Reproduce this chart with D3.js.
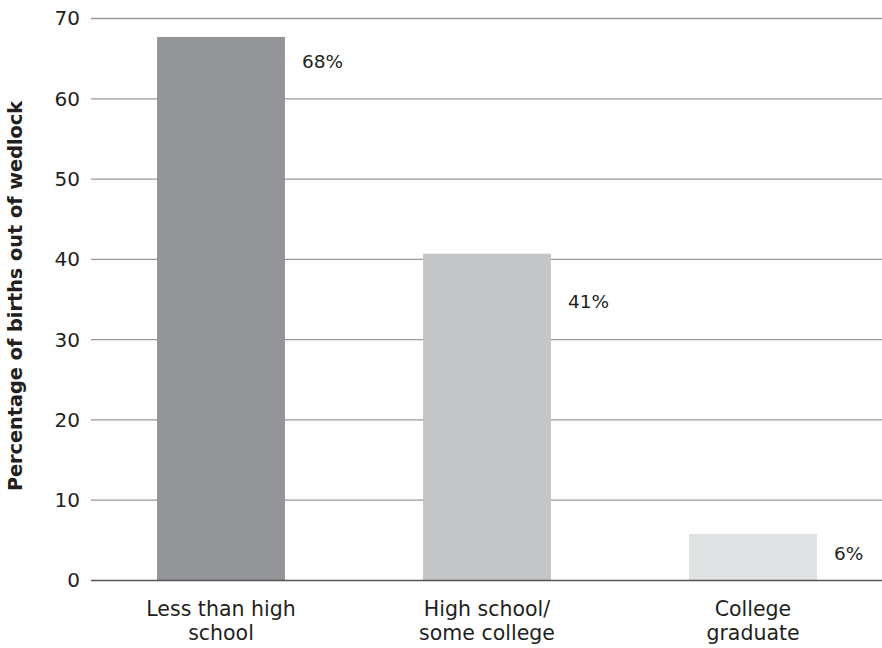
<!DOCTYPE html>
<html>
<head>
<meta charset="utf-8">
<script src="https://cdn.jsdelivr.net/npm/d3@7"></script>
<style>
  body { margin: 0; background: #fff; }
  text { font-family: "DejaVu Sans", sans-serif; fill: #231f20; }
</style>
</head>
<body>
<div id="chart-area"></div>
<script>
// data
var categories = [["Less than high", "school"], ["High school/", "some college"], ["College", "graduate"]];
var values = [67.7, 40.7, 5.8];
var valueLabels = ["68%", "41%", "6%"];
var yTicks = [0, 10, 20, 30, 40, 50, 60, 70];
var barColors = ["#939598", "#c4c5c7", "#e0e1e2"];

var W = 882, H = 648;
var svg = d3.select("#chart-area").append("svg")
    .attr("width", W)
    .attr("height", H);

// scales
var x = d3.scaleBand()
    .domain(d3.range(categories.length))
    .range([88, 886])
    .paddingInner(0.519)
    .paddingOuter(0.2595);

var y = d3.scaleLinear()
    .domain([0, 70])
    .range([580.5, 18.5]);

// grid lines
svg.append("g").selectAll("line")
    .data(yTicks.filter(function (d) { return d > 0; }))
    .enter().append("line")
    .attr("x1", 91).attr("x2", W)
    .attr("y1", function (d) { return y(d); })
    .attr("y2", function (d) { return y(d); })
    .attr("stroke", "#9a9a9a")
    .attr("stroke-width", 1.3);

// y axis labels
var yAxis = d3.axisLeft(y).tickValues(yTicks).tickSize(0).tickPadding(0);
var yg = svg.append("g")
    .attr("transform", "translate(80,0)")
    .call(yAxis);
yg.select(".domain").remove();
yg.selectAll("text")
    .style("font-size", "20px")
    .style("font-family", "'DejaVu Sans', sans-serif")
    .attr("fill", "#231f20");

// bars
svg.append("g").selectAll("rect")
    .data(values)
    .enter().append("rect")
    .attr("x", function (d, i) { return x(i); })
    .attr("y", function (d) { return y(d); })
    .attr("width", x.bandwidth())
    .attr("height", function (d) { return y(0) - y(d); })
    .attr("fill", function (d, i) { return barColors[i]; });

// baseline
svg.append("line")
    .attr("x1", 91).attr("x2", W)
    .attr("y1", y(0)).attr("y2", y(0))
    .attr("stroke", "#555")
    .attr("stroke-width", 1.4);

// value labels (vertical nudge per bar as in the original)
var labelDy = [31, 54, 26];
svg.append("g").selectAll("text")
    .data(values)
    .enter().append("text")
    .attr("x", function (d, i) { return x(i) + x.bandwidth() + 17; })
    .attr("y", function (d, i) { return y(d) + labelDy[i]; })
    .style("font-size", "18.5px")
    .text(function (d, i) { return valueLabels[i]; });

// category labels
var cat = svg.append("g").selectAll("text")
    .data(categories)
    .enter().append("text")
    .attr("text-anchor", "middle")
    .attr("x", function (d, i) { return x(i) + x.bandwidth() / 2; })
    .attr("y", 616)
    .style("font-size", "20.5px");
cat.selectAll("tspan")
    .data(function (d) { return d; })
    .enter().append("tspan")
    .attr("x", function () { return d3.select(this.parentNode).attr("x"); })
    .attr("dy", function (d, i) { return i === 0 ? 0 : 24; })
    .text(function (d) { return d; });

// y axis title
svg.append("text")
    .attr("transform", "translate(22,296) rotate(-90)")
    .attr("text-anchor", "middle")
    .style("font-size", "19.3px")
    .style("font-weight", "bold")
    .text("Percentage of births out of wedlock");
</script>
</body>
</html>
